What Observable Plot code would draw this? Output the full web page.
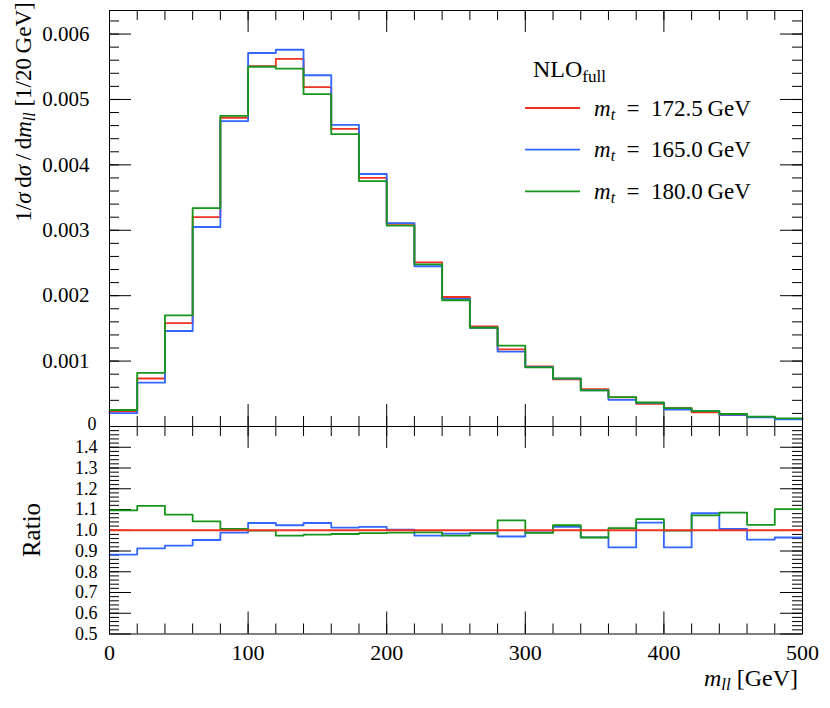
<!DOCTYPE html>
<html>
<head>
<meta charset="utf-8">
<script src="https://cdn.jsdelivr.net/npm/d3@7"></script>
<script src="https://cdn.jsdelivr.net/npm/@observablehq/plot@0.6"></script>
<style>
  html, body { margin: 0; padding: 0; background: #fff; }
  #chart { position: relative; width: 830px; height: 708px; background: #fff; }
  #chart svg { position: absolute; left: 0; overflow: visible; }
</style>
</head>
<body>
<div id="chart"></div>
<script>
// ---------------- data ----------------
const binEdges = [0, 20, 40, 60, 80, 100, 120, 140, 160, 180, 200, 220, 240, 260, 280, 300, 320, 340, 360, 380, 400, 420, 440, 460, 480, 500];

// 1/sigma dsigma/dm_ll per 20 GeV bin
const xsecMt1725 = [0.00023, 0.000734, 0.00158, 0.0032, 0.00472, 0.00551, 0.00562, 0.00519, 0.00455, 0.0038, 0.0031, 0.00251, 0.00198, 0.00153, 0.00118, 0.000917, 0.00072, 0.000572, 0.000445, 0.000348, 0.00028, 0.000218, 0.000176, 0.000146, 0.000114];
const xsecMt1650 = [0.000203, 0.00067, 0.00146, 0.00305, 0.00467, 0.00571, 0.00576, 0.00537, 0.00461, 0.00386, 0.00311, 0.00245, 0.00195, 0.00151, 0.001145, 0.000908, 0.000732, 0.000553, 0.000408, 0.000361, 0.000257, 0.000236, 0.000177, 0.00014, 0.00011];
const xsecMt1800 = [0.000252, 0.00082, 0.0017, 0.00334, 0.00475, 0.0055, 0.00547, 0.00508, 0.00447, 0.00375, 0.00307, 0.00248, 0.00193, 0.00151, 0.001237, 0.000905, 0.000737, 0.000552, 0.00045, 0.000367, 0.00028, 0.000234, 0.000191, 0.00015, 0.000125];

// ratios to m_t = 172.5 GeV
const ratioMt1650 = [0.883, 0.913, 0.926, 0.953, 0.989, 1.035, 1.024, 1.035, 1.013, 1.016, 1.003, 0.974, 0.984, 0.987, 0.970, 0.990, 1.016, 0.966, 0.917, 1.037, 0.917, 1.082, 1.006, 0.955, 0.965];
const ratioMt1800 = [1.096, 1.117, 1.075, 1.043, 1.006, 0.998, 0.974, 0.979, 0.982, 0.986, 0.989, 0.990, 0.974, 0.984, 1.048, 0.987, 1.024, 0.965, 1.010, 1.054, 0.998, 1.072, 1.085, 1.026, 1.102];
const ratioReference = [1];

const seriesMasses = ["172.5", "165.0", "180.0"];
const seriesColors = ["#ee3322", "#3366ff", "#16961a"];

const topTickValues = [0, 0.001, 0.002, 0.003, 0.004, 0.005, 0.006];
const topTickLabels = ["0", "0.001", "0.002", "0.003", "0.004", "0.005", "0.006"];
const ratioTickValues = [0.5, 0.6, 0.7, 0.8, 0.9, 1.0, 1.1, 1.2, 1.3, 1.4];
const ratioTickLabels = ["0.5", "0.6", "0.7", "0.8", "0.9", "1.0", "1.1", "1.2", "1.3", "1.4"];
const xTickValues = [0, 100, 200, 300, 400, 500];
const xTickLabels = ["0", "100", "200", "300", "400", "500"];

// ---------------- layout ----------------
const FONT = "'Liberation Serif', 'DejaVu Serif', serif";
const W = 830, ML = 109, MR = 28;
const innerW = W - ML - MR;
const topH = 426, topMT = 10, topInner = topH - topMT;
const botH = 282, botMB = 74.5, botInner = botH - botMB;
const MAJ = 22, MIN = 10;

const xMinor = d3.range(0, 26).map(i => i * 20);
const topMinor = d3.range(1, 32).map(i => i * 0.0002);
const ratioMinor = d3.range(26, 75).map(i => i * 0.02);

function stepPoints(vals) {
  return binEdges.map((x, i) => ({x, y: vals[Math.min(i, vals.length - 1)]}));
}
function frameTicks(xs, xsMaj, ys, ysMaj, inner) {
  const s = {stroke: "black", strokeWidth: 1};
  return [
    Plot.tickX(xs, {x: d => d, insetBottom: inner - MIN, ...s}),
    Plot.tickX(xs, {x: d => d, insetTop: inner - MIN, ...s}),
    Plot.tickX(xsMaj, {x: d => d, insetBottom: inner - MAJ, ...s}),
    Plot.tickX(xsMaj, {x: d => d, insetTop: inner - MAJ, ...s}),
    Plot.tickY(ys, {y: d => d, insetRight: innerW - MIN, ...s}),
    Plot.tickY(ys, {y: d => d, insetLeft: innerW - MIN, ...s}),
    Plot.tickY(ysMaj, {y: d => d, insetRight: innerW - MAJ, ...s}),
    Plot.tickY(ysMaj, {y: d => d, insetLeft: innerW - MAJ, ...s})
  ];
}
const lineOpts = (c) => ({x: "x", y: "y", curve: "step-after", stroke: c, strokeWidth: 1.8});

// ---------------- top panel ----------------
const topPlot = Plot.plot({
  width: W, height: topH,
  marginLeft: ML, marginRight: MR, marginTop: topMT, marginBottom: 0,
  style: {background: "transparent", overflow: "visible", fontFamily: FONT, fontSize: "21px", color: "black"},
  x: {domain: [0, 500], axis: null},
  y: {domain: [0, 0.00636]},
  marks: [
    ...frameTicks(xMinor, xTickValues, topMinor, topTickValues, topInner),
    Plot.axisY(topTickValues.filter(d => d > 0), {
      tickSize: 0, tickPadding: 20, label: null, fontSize: 21,
      tickFormat: d => topTickLabels[topTickValues.indexOf(d)]
    }),
    Plot.axisY(topTickValues.filter(d => d === 0), {
      tickSize: 0, tickPadding: 13, label: null, fontSize: 18, dy: -2,
      tickFormat: d => topTickLabels[topTickValues.indexOf(d)]
    }),
    Plot.line(stepPoints(xsecMt1725), lineOpts(seriesColors[0])),
    Plot.line(stepPoints(xsecMt1650), lineOpts(seriesColors[1])),
    Plot.line(stepPoints(xsecMt1800), lineOpts(seriesColors[2])),
    Plot.frame({stroke: "black", strokeWidth: 1})
  ]
});

// ---------------- ratio panel ----------------
const botPlot = Plot.plot({
  width: W, height: botH,
  marginLeft: ML, marginRight: MR, marginTop: 0, marginBottom: botMB,
  style: {background: "transparent", overflow: "visible", fontFamily: FONT, fontSize: "18px", color: "black"},
  x: {domain: [0, 500]},
  y: {domain: [0.5, 1.5]},
  marks: [
    ...frameTicks(xMinor, xTickValues, ratioMinor, ratioTickValues, botInner),
    Plot.axisY(ratioTickValues, {
      tickSize: 0, tickPadding: 12, label: null, fontSize: 18,
      tickFormat: d => ratioTickLabels[ratioTickValues.indexOf(d)]
    }),
    Plot.axisX(xTickValues, {
      tickSize: 0, tickPadding: 10, label: null, fontSize: 22,
      tickFormat: d => xTickLabels[xTickValues.indexOf(d)]
    }),
    Plot.line(stepPoints(ratioMt1650), lineOpts(seriesColors[1])),
    Plot.line(stepPoints(ratioMt1800), lineOpts(seriesColors[2])),
    Plot.ruleY(ratioReference, {stroke: seriesColors[0], strokeWidth: 1.8}),
    Plot.frame({stroke: "black", strokeWidth: 1})
  ]
});

const chart = document.getElementById("chart");
topPlot.style.top = "0px";
botPlot.style.top = topH + "px";
chart.appendChild(topPlot);
chart.appendChild(botPlot);

// ---------------- text with math ----------------
function addPieces(textSel, pieces) {
  pieces.forEach(p => {
    const t = textSel.append("tspan").text(p.t);
    if (p.i) t.attr("font-style", "italic");
    if (p.s) t.attr("font-size", p.s);
    if (p.dy) t.attr("dy", p.dy);
  });
}

const st = d3.select(topPlot);
const gL = st.append("g").attr("font-family", FONT).attr("fill", "black").attr("text-anchor", "start");
const title = gL.append("text").attr("x", 533).attr("y", 77).attr("font-size", 24).attr("text-anchor", "start");
addPieces(title, [{t: "NLO"}, {t: "full", s: 17, dy: 5}]);

seriesMasses.forEach((m, i) => {
  const yy = 108 + i * 41.7;
  gL.append("line").attr("x1", 525).attr("x2", 580).attr("y1", yy).attr("y2", yy)
    .attr("stroke", seriesColors[i]).attr("stroke-width", 1.8);
  const t = gL.append("text").attr("x", 594).attr("y", yy + 7.5).attr("font-size", 23).attr("text-anchor", "start");
  addPieces(t, [{t: "m", i: true}, {t: "t", i: true, s: 16, dy: 4}, {t: "\u2002=\u2002" + m + "\u2009GeV", dy: -4}]);
});

const yTitle = gL.append("text").attr("transform", "translate(31,112) rotate(-90)")
  .attr("text-anchor", "middle").attr("font-size", 23);
addPieces(yTitle, [
  {t: "1/"}, {t: "\u03c3", i: true}, {t: "\u2009d"}, {t: "\u03c3", i: true}, {t: "\u2009/\u2009d"},
  {t: "m", i: true}, {t: "ll", i: true, s: 16, dy: 4}, {t: " [1/20\u2009GeV]", dy: -4}
]);

const sb = d3.select(botPlot);
const gB = sb.append("g").attr("font-family", FONT).attr("fill", "black");
gB.append("text").attr("transform", "translate(40,104) rotate(-90)")
  .attr("text-anchor", "middle").attr("font-size", 25).text("Ratio");
const xTitle = gB.append("text").attr("x", 798).attr("y", 260).attr("text-anchor", "end").attr("font-size", 24);
addPieces(xTitle, [{t: "m", i: true}, {t: "ll", i: true, s: 17, dy: 4}, {t: " [GeV]", dy: -4}]);
</script>
</body>
</html>
